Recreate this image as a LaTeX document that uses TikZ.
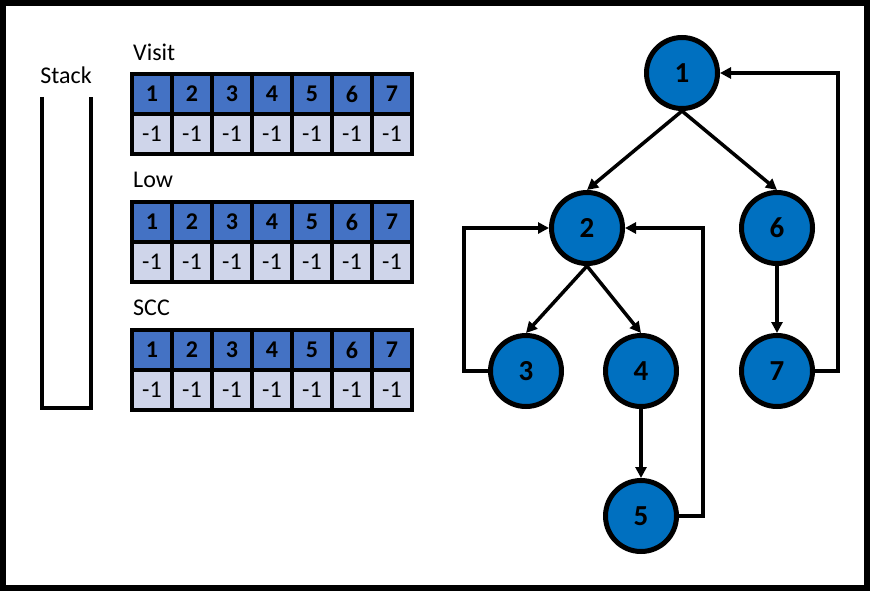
\documentclass[tikz,border=0pt]{standalone}
\usepackage{fontspec}
\setmainfont{Carlito}
\usetikzlibrary{positioning,arrows.meta}
\definecolor{headblue}{HTML}{4472C4}
\definecolor{cellgray}{HTML}{CFD5EA}
\definecolor{nodeblue}{HTML}{0070C0}

\begin{document}
\begin{tikzpicture}[x=1pt,y=-1pt,>={Triangle[length=11pt,width=11pt]},
		txt/.style={font=\fontsize{24}{28}\selectfont},
		vertex/.style={circle,draw,line width=5pt,fill=nodeblue,minimum size=71pt,inner sep=0pt,font=\fontsize{29}{33}\selectfont\bfseries},
		head/.style={draw,line width=3.5pt,fill=headblue,minimum width=40pt,minimum height=40pt,inner sep=0pt,font=\fontsize{24}{28}\selectfont\bfseries},
		cell/.style={draw,line width=3.5pt,fill=cellgray,minimum width=40pt,minimum height=40pt,inner sep=0pt,font=\fontsize{24}{28}\selectfont},
		edge/.style={->,line width=3.5pt}]
		\useasboundingbox (0,0) rectangle (870,591);

		% Frame
		\draw[line width=6pt] (3,3) rectangle (867,588);

		% Stack
		\node[txt] (stacklbl) at (66,75) {Stack};
		\draw[line width=3.5pt] (42,97) |- (91,408) -- (91,97);

		% Tables (Visit, Low, SCC)
		\foreach \t/\y/\lbl in {visit/74/Visit, low/202/Low, scc/330/SCC} {
			\node[txt,anchor=west,inner sep=0pt] (\t-lbl) at (133,\y-22) {\lbl};
			\foreach \i in {1,...,7} {
				\node[head] (\t-h\i) at ({112+40*\i},\y+20) {\i};
				\node[cell] (\t-c\i) at ({112+40*\i},\y+60) {-1};
			}
		}

		% Graph
		\node[vertex] (n1) at (682,73) {1};
		\node[vertex] (n2) at (587,228) {2};
		\node[vertex] (n6) at (777,228) {6};
		\node[vertex] (n3) at (526,371) {3};
		\node[vertex] (n4) at (641,371) {4};
		\node[vertex] (n7) at (777,371) {7};
		\node[vertex] (n5) at (641,516) {5};

		% Tree edges
		\draw[edge] (n1.south) -- (n2.north);
		\draw[edge] (n1.south) -- (n6.north);
		\draw[edge] (n2.south) -- (n3.north);
		\draw[edge] (n2.south) -- (n4.north);
		\draw[edge] (n4.south) -- (n5.north);
		\draw[edge] (n6.south) -- (n7.north);

		% Back edges
		\draw[edge] (n3.west) -- ++(-24,0) |- (n2.west);
		\draw[edge] (n5.east) -- ++(24,0) |- (n2.east);
		\draw[edge] (n7.east) -- ++(23,0) |- (n1.east);
\end{tikzpicture}
\end{document}
